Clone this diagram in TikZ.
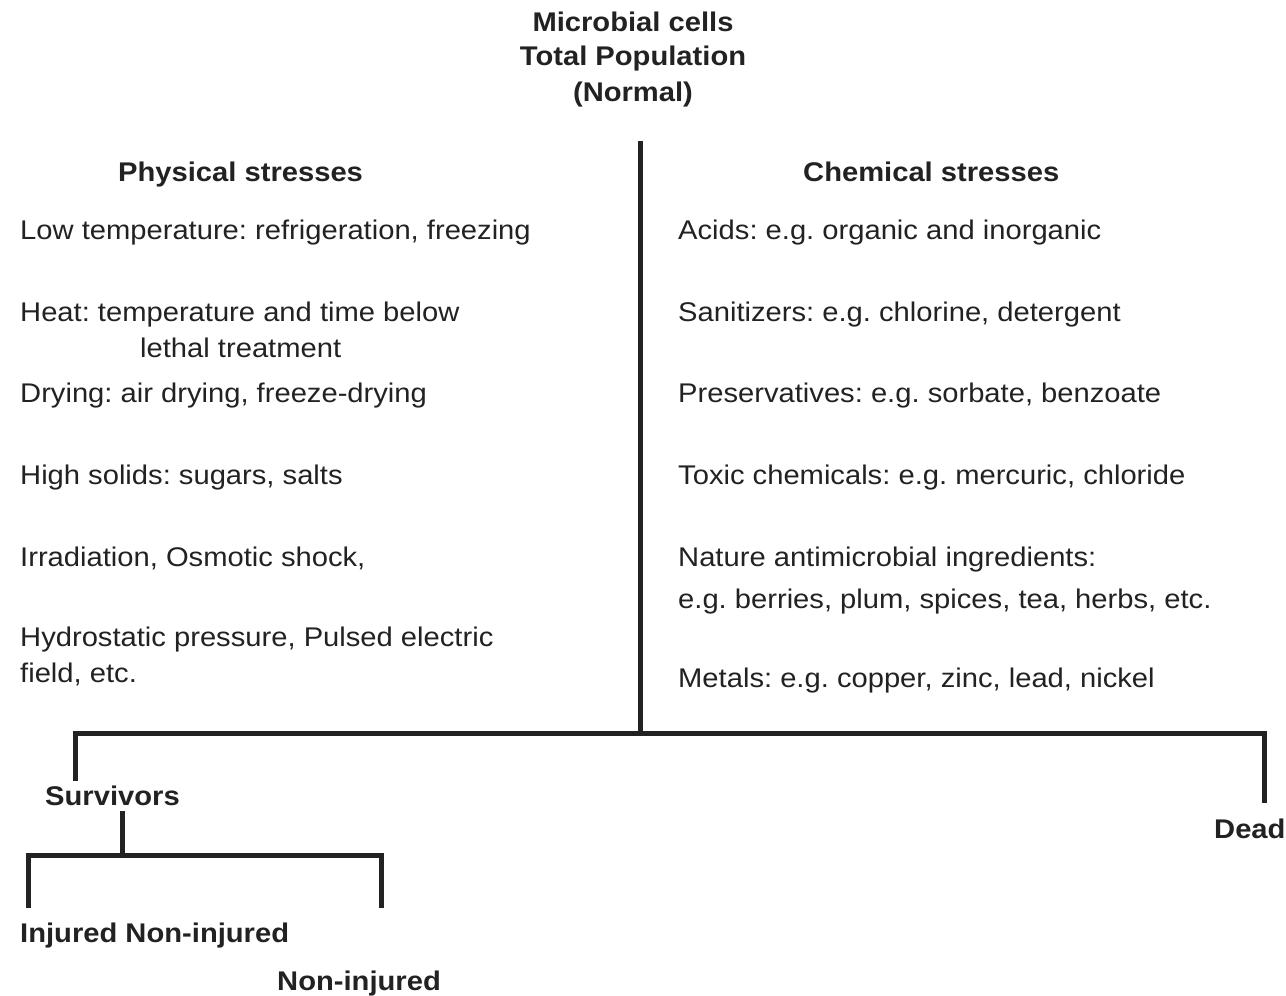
\documentclass[tikz,border=0pt]{standalone}
\usepackage{fontspec}
\setmainfont[FakeStretch=1.08]{Liberation Sans}
\frenchspacing
\begin{document}
\begin{tikzpicture}[x=1pt,y=-1pt,
  txt/.style={inner sep=0pt,anchor=base west,text=ink,font=\fontsize{27}{32}\selectfont},
  hd/.style={txt,font=\fontsize{27}{32}\selectfont\bfseries},
  ttl/.style={hd,anchor=base},
  bar/.style={draw=ink,line width=5pt,line cap=rect}]
\definecolor{ink}{HTML}{222222}
\useasboundingbox[fill=white] (0,0) rectangle (1286,996);
% title
\node[ttl] (t1) at (633,31) {Microbial cells};
\node[ttl] (t2) at (633,65) {Total Population};
\node[ttl] (t3) at (633,101) {(Normal)};
% headings
\node[hd] (phys) at (118,181) {Physical stresses};
\node[hd] (chem) at (803,181) {Chemical stresses};
% physical
\node[txt] (p1) at (20,239) {Low temperature: refrigeration, freezing};
\node[txt] (p2) at (20,321) {Heat: temperature and time below};
\node[txt] (p2b) at (140,357) {lethal treatment};
\node[txt] (p3) at (20,402) {Drying: air drying, freeze-drying};
\node[txt] (p4) at (20,484) {High solids: sugars, salts};
\node[txt] (p5) at (20,566) {Irradiation, Osmotic shock,};
\node[txt] (p6) at (20,646) {Hydrostatic pressure, Pulsed electric};
\node[txt] (p6b) at (20,682) {field, etc.};
% chemical
\node[txt] (c1) at (678,239) {Acids: e.g. organic and inorganic};
\node[txt] (c2) at (678,321) {Sanitizers: e.g. chlorine, detergent};
\node[txt] (c3) at (678,402) {Preservatives: e.g. sorbate, benzoate};
\node[txt] (c4) at (678,484) {Toxic chemicals: e.g. mercuric, chloride};
\node[txt] (c5) at (678,566) {Nature antimicrobial ingredients:};
\node[txt] (c5b) at (678,608) {e.g. berries, plum, spices, tea, herbs, etc.};
\node[txt] (c6) at (678,687) {Metals: e.g. copper, zinc, lead, nickel};
% outcomes
\node[hd] (surv) at (45,805) {Survivors};
\node[hd] (dead) at (1214,838) {Dead};
\node[hd] (inj) at (20,942) {Injured Non-injured};
\node[hd] (noninj) at (277,990) {Non-injured};
% connector coordinates
\coordinate (top) at (640,143);
\coordinate (mid) at (640,733);
\coordinate (hl) at (75,733);
\coordinate (hr) at (1264,733);
\coordinate (sl) at (75,778);
\coordinate (dr) at (1264,800);
\coordinate (s1) at (122,813);
\coordinate (s2) at (122,855);
\coordinate (bl) at (28,855);
\coordinate (br) at (381,855);
\coordinate (blb) at (28,905);
\coordinate (brb) at (381,905);
% connectors
\draw[bar] (top) -- (mid);
\draw[bar] (sl) -- (hl) -- (hr) -- (dr);
\draw[bar] (s1) -- (s2);
\draw[bar] (blb) -- (bl) -- (br) -- (brb);
\end{tikzpicture}
\end{document}
